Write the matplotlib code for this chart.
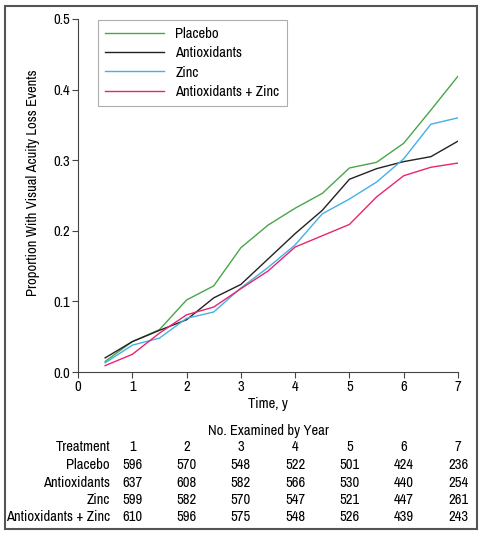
import matplotlib.pyplot as plt
from matplotlib.patches import Rectangle

plt.rcParams['font.family'] = ['Archivo Narrow', 'PT Sans Narrow', 'DejaVu Sans']

# data
years = [0.5, 1, 1.5, 2, 2.5, 3, 3.5, 4, 4.5, 5, 5.5, 6, 6.5, 7]
placebo = [0.015, 0.043, 0.060, 0.102, 0.122, 0.176, 0.208, 0.232, 0.253, 0.289, 0.297, 0.324, 0.371, 0.419]
antiox = [0.020, 0.043, 0.059, 0.074, 0.105, 0.124, 0.160, 0.196, 0.229, 0.273, 0.288, 0.298, 0.305, 0.327]
zinc = [0.013, 0.038, 0.048, 0.076, 0.085, 0.119, 0.148, 0.180, 0.224, 0.245, 0.269, 0.302, 0.351, 0.360]
az = [0.009, 0.025, 0.055, 0.081, 0.092, 0.118, 0.143, 0.177, 0.193, 0.209, 0.248, 0.278, 0.290, 0.296]

labels = ["Placebo", "Antioxidants", "Zinc", "Antioxidants + Zinc"]
colors = ["#4aa54a", "#222222", "#45b0e5", "#e8256f"]

table_years = [1, 2, 3, 4, 5, 6, 7]
n_placebo = [596, 570, 548, 522, 501, 424, 236]
n_antiox = [637, 608, 582, 566, 530, 440, 254]
n_zinc = [599, 582, 570, 547, 521, 447, 261]
n_az = [610, 596, 575, 548, 526, 439, 243]

fig = plt.figure(figsize=(4.84, 5.34), dpi=100)
ax = fig.add_axes([78/484, 1 - 372/534, 380/484, 353/534])

for series, lab, c in zip([placebo, antiox, zinc, az], labels, colors):
    ax.plot(years, series, color=c, lw=1.0, label=lab)

ax.set_xlim(0, 7)
ax.set_ylim(0, 0.5)
ax.set_xticks(range(8))
ax.set_yticks([0, 0.1, 0.2, 0.3, 0.4, 0.5])
ax.set_yticklabels(["0.0", "0.1", "0.2", "0.3", "0.4", "0.5"])
ax.spines['top'].set_visible(False)
ax.spines['right'].set_visible(False)
for s in ['left', 'bottom']:
    ax.spines[s].set_color('#444444')
ax.tick_params(direction='out', length=4, width=0.8, color='#444444', labelsize=10.5, pad=2)
ax.set_xlabel("Time, y", fontsize=10.5, labelpad=2)
ax.set_ylabel("Proportion With Visual Acuity Loss Events", fontsize=10.5)
ax.yaxis.set_label_coords(-0.1, 0.535)

leg = ax.legend(loc='upper left', bbox_to_anchor=(0.053, 0.997), fontsize=10.5,
                frameon=True, fancybox=False, handlelength=4.0, handletextpad=0.8,
                borderpad=0.5, labelspacing=0.35, borderaxespad=0)
leg.get_frame().set_edgecolor('#999999')
leg.get_frame().set_linewidth(0.8)

# table of numbers examined
def fy(p):
    return 1 - p / 534

fs = 10.5
fig.text((78 + 380/2) / 484, fy(431), "No. Examined by Year", ha='center', va='center', fontsize=fs)
rows = [("Treatment", table_years), ("Placebo", n_placebo), ("Antioxidants", n_antiox),
        ("Zinc", n_zinc), ("Antioxidants + Zinc", n_az)]
row_y = [447, 465, 483, 500, 517]
for (name, vals), yy in zip(rows, row_y):
    fig.text(110/484, fy(yy), name, ha='right', va='center', fontsize=fs)
    for yr, v in zip(table_years, vals):
        xd = ax.transData.transform((yr, 0))[0]
        fig.text(xd / fig.bbox.width, fy(yy), str(v), ha='center', va='center', fontsize=fs)

fig.patches.append(Rectangle((5/484, 1 - 529/534), 472/484, 523/534, transform=fig.transFigure,
                             fill=False, edgecolor='#555555', lw=1.5))

fig.savefig("out.png", dpi=100)
